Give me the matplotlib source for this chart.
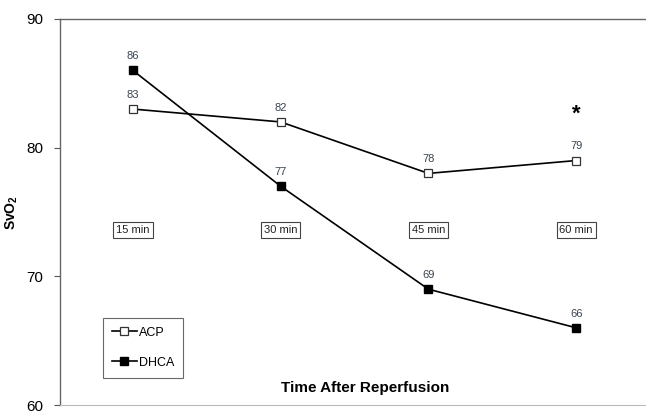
import matplotlib
matplotlib.use("Agg")
import matplotlib.pyplot as plt

plt.rcParams['font.family'] = ['Liberation Sans', 'DejaVu Sans']

times = ['15 min', '30 min', '45 min', '60 min']
acp = [83, 82, 78, 79]
dhca = [86, 77, 69, 66]
x = [1, 2, 3, 4]

fig = plt.figure(figsize=(6.46, 4.11), dpi=100)
ax = fig.add_axes([60/646, 6/411, 590/646, 386/411])

ax.plot(x, acp, color='black', lw=1.2, marker='s', ms=6, mfc='white',
        mec='#333333', mew=0.9, label='ACP')
ax.plot(x, dhca, color='black', lw=1.2, marker='s', ms=6, mfc='black',
        mec='black', label='DHCA')

lab_col = '#3a4450'
for xi, v in zip(x, acp):
    ax.text(xi, v + 1.1, str(v), ha='center', va='center', fontsize=8, color=lab_col)
for xi, v in zip(x, dhca):
    ax.text(xi, v + 1.1, str(v), ha='center', va='center', fontsize=8, color=lab_col)

for xi, t in zip(x, times):
    ax.text(xi, 73.6, t, ha='center', va='center', fontsize=8, color='#222222',
            bbox=dict(boxstyle='square,pad=0.25', fc='white', ec='#444444', lw=0.8))

ax.text(4, 82.6, '*', ha='center', va='center', fontsize=16, fontweight='bold')
ax.text(2.57, 61.3, 'Time After Reperfusion', ha='center', va='center',
        fontsize=11, fontweight='bold')

ax.set_xlim(0.506, 4.5)
ax.set_ylim(60, 90)
ax.set_yticks([60, 70, 80, 90])
ax.set_xticks([])
ax.tick_params(axis='y', direction='out', length=4, width=0.8, color='#555555',
               labelsize=11, pad=8)
for side in ['left', 'top']:
    ax.spines[side].set_color('#666666')
    ax.spines[side].set_linewidth(1.0)
ax.spines['bottom'].set_color('#bbbbbb')
ax.spines['right'].set_visible(False)

ax.set_ylabel('SvO$_\\mathregular{2}$', fontsize=10, fontweight='bold')
ax.yaxis.set_label_coords(-0.068, 0.5)

leg = ax.legend(loc='lower left', bbox_to_anchor=(0.062, 0.055), fontsize=9,
                frameon=True, fancybox=False, edgecolor='#444444',
                handlelength=2.0, handletextpad=0.2, labelspacing=1.45,
                borderpad=0.7)
leg.get_frame().set_linewidth(0.8)

fig.savefig('out.png', dpi=100)
